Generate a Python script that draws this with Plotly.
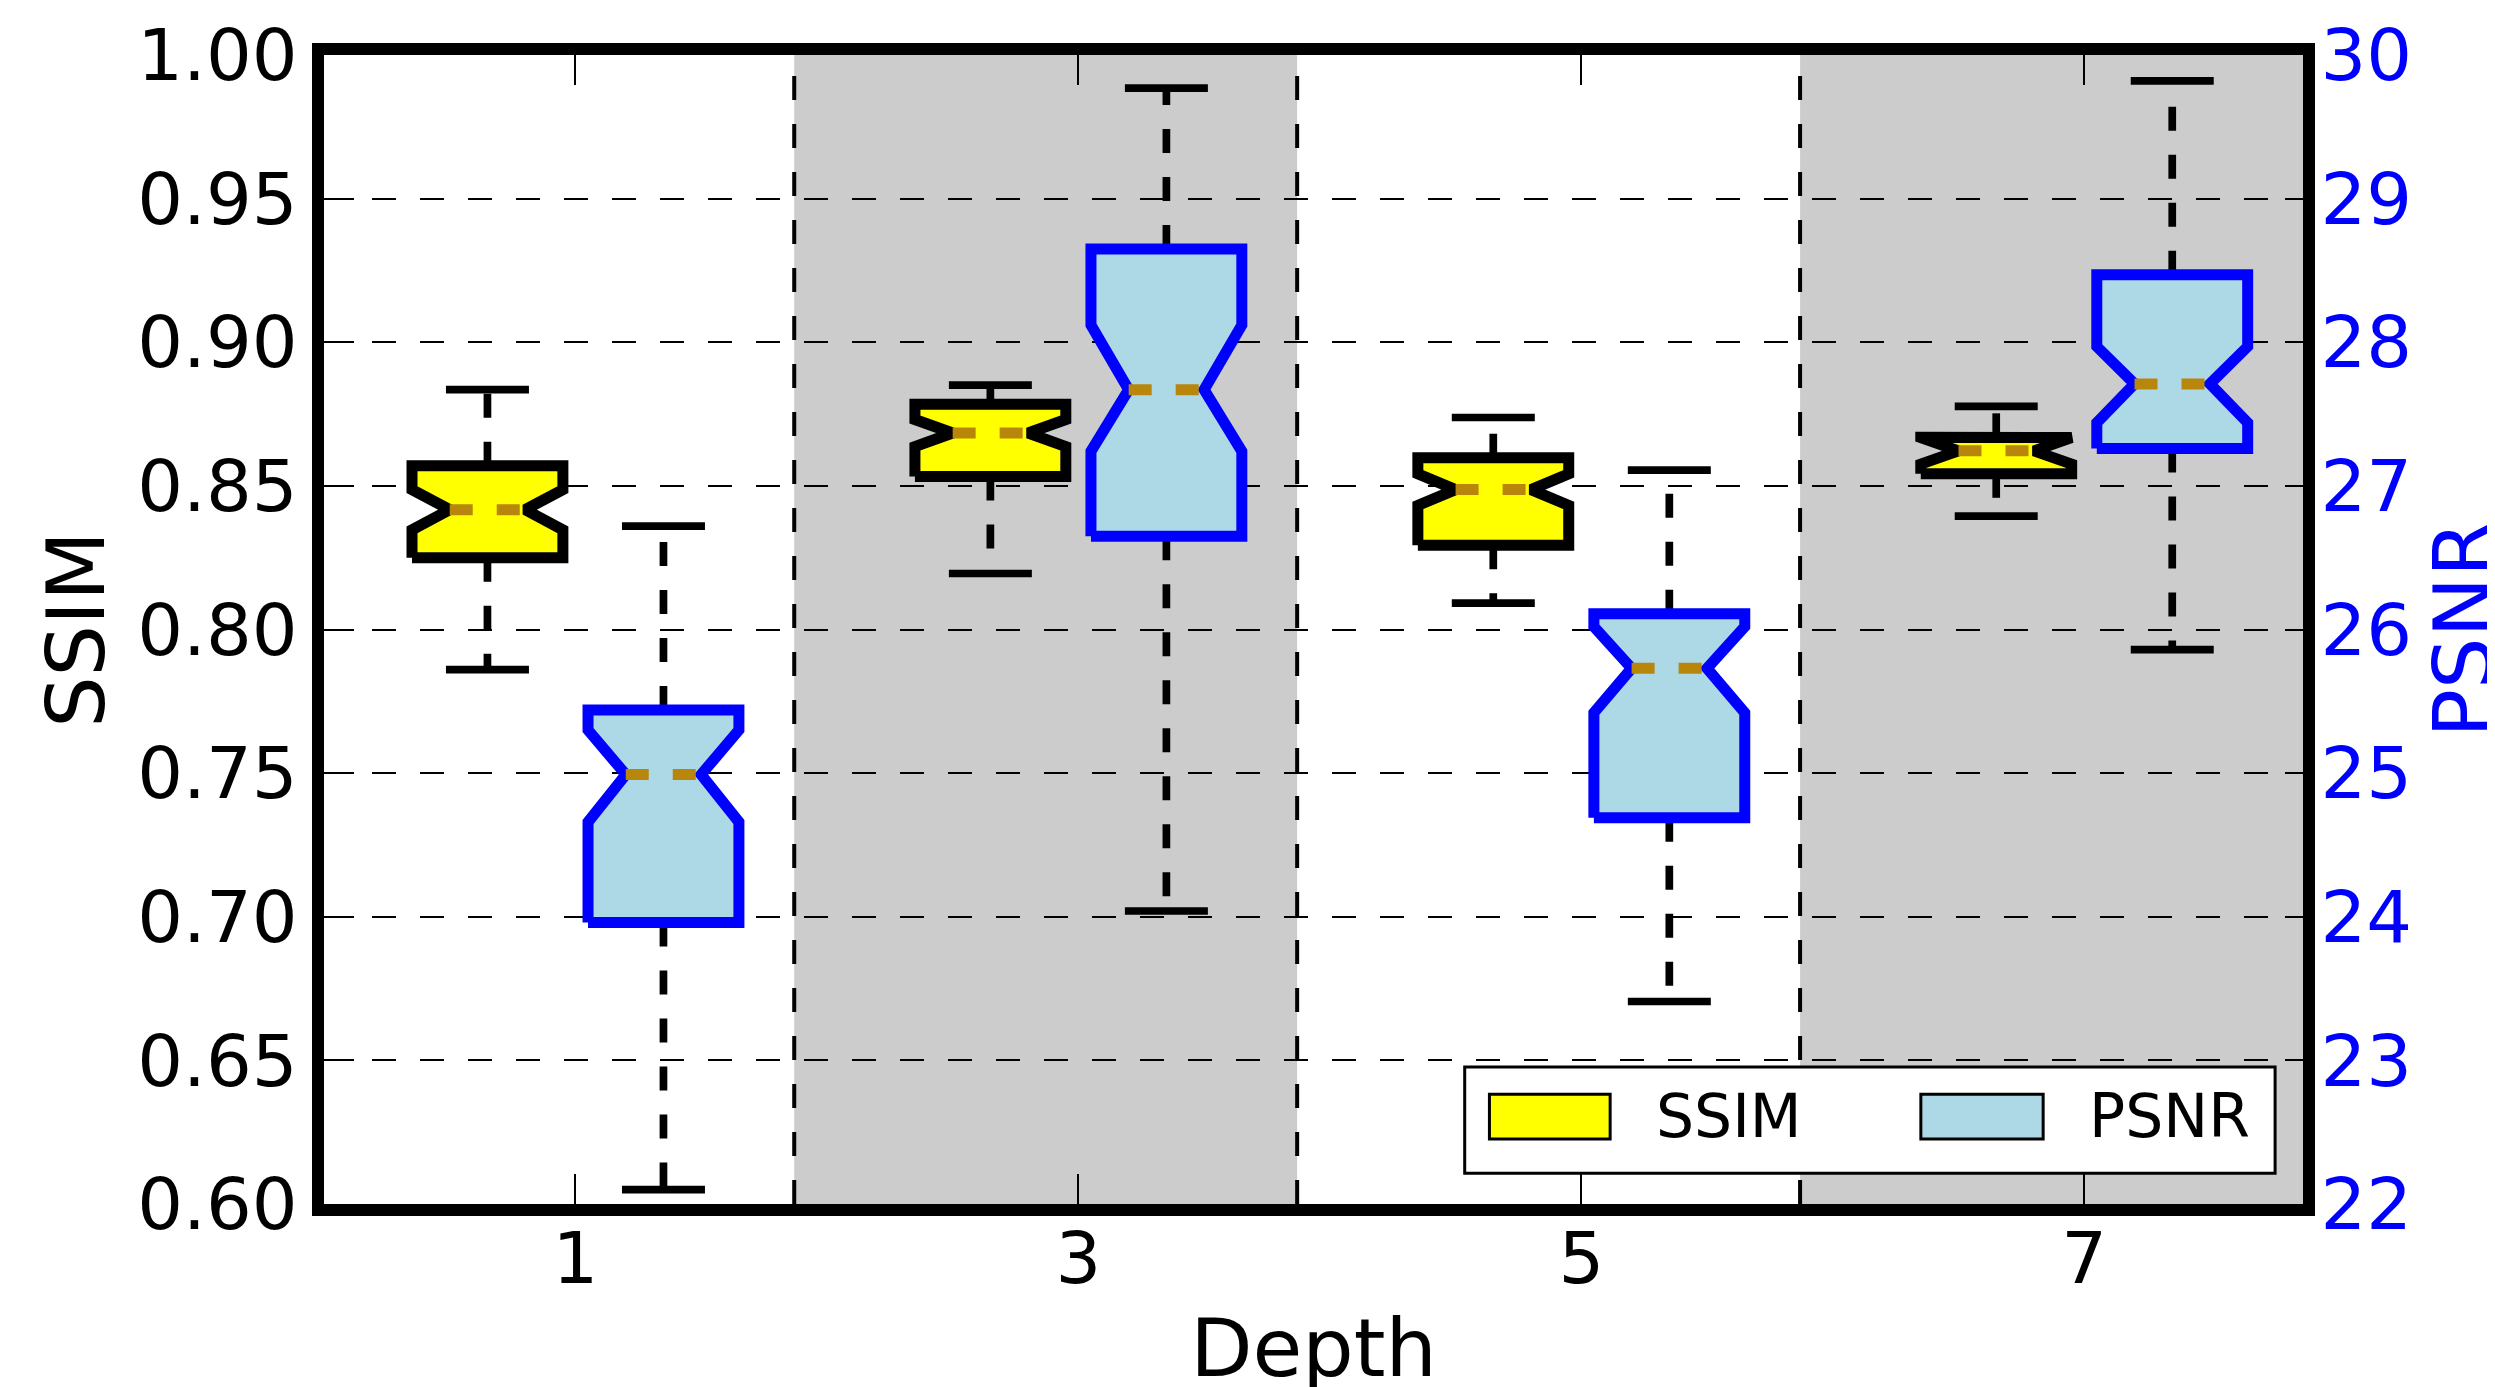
import plotly.graph_objects as go

# ---------------- data ----------------
depths = [1, 3, 5, 7]

ssim_low = [0.786, 0.8195, 0.8092, 0.8395]
ssim_q1 = [0.825, 0.8533, 0.8293, 0.8542]
ssim_med = [0.8417, 0.8684, 0.8487, 0.8622]
ssim_q3 = [0.857, 0.8784, 0.8598, 0.8669]
ssim_high = [0.8835, 0.8851, 0.8738, 0.8777]
ssim_notch_lo = [0.8347, 0.8637, 0.8432, 0.8576]
ssim_notch_hi = [0.8487, 0.8731, 0.8542, 0.8668]

psnr_low = [22.10, 24.04, 23.41, 25.86]
psnr_q1 = [23.96, 26.65, 24.69, 27.26]
psnr_med = [24.99, 27.67, 25.73, 27.71]
psnr_q3 = [25.44, 28.65, 26.11, 28.47]
psnr_high = [26.72, 29.77, 27.11, 29.82]
psnr_notch_lo = [24.66, 27.24, 25.42, 27.44]
psnr_notch_hi = [25.30, 28.12, 26.02, 27.97]

x_ticks = [1, 3, 5, 7]
ssim_ticks = [0.60, 0.65, 0.70, 0.75, 0.80, 0.85, 0.90, 0.95, 1.00]
psnr_ticks = [22, 23, 24, 25, 26, 27, 28, 29, 30]

# ---------------- layout constants ----------------
OFFSET = 0.35
HALF_W = 0.30
CAP_HALF = 0.165
NOTCH_FRAC = 0.5
band_edges = [1.87, 3.87, 5.87]
shaded = [(1.87, 3.87), (5.87, 7.87)]
X_RANGE = [0, 7.87]
FONT = "DejaVu Sans"


def box_polys(positions, q1, ln, med, un, q3):
    xs, ys = [], []
    for p, a, b, m, c, d in zip(positions, q1, ln, med, un, q3):
        l, r = p - HALF_W, p + HALF_W
        tl, tr = p - HALF_W * NOTCH_FRAC, p + HALF_W * NOTCH_FRAC
        xs += [l, r, r, tr, r, r, l, l, tl, l, l, None]
        ys += [a, a, b, m, c, d, d, c, m, b, a, None]
    return xs, ys


def whiskers(positions, q1, low, q3, high):
    xs, ys = [], []
    for p, a, lo, d, hi in zip(positions, q1, low, q3, high):
        xs += [p, p, None, p, p, None]
        ys += [a, lo, None, d, hi, None]
    return xs, ys


def caps(positions, low, high):
    xs, ys = [], []
    for p, lo, hi in zip(positions, low, high):
        xs += [p - CAP_HALF, p + CAP_HALF, None, p - CAP_HALF, p + CAP_HALF, None]
        ys += [lo, lo, None, hi, hi, None]
    return xs, ys


def medians(positions, med):
    xs, ys = [], []
    for p, m in zip(positions, med):
        xs += [p - HALF_W * NOTCH_FRAC, p + HALF_W * NOTCH_FRAC, None]
        ys += [m, m, None]
    return xs, ys


ssim_pos = [d - OFFSET for d in depths]
psnr_pos = [d + OFFSET for d in depths]

fig = go.Figure()

series = [
    ("SSIM", ssim_pos, ssim_low, ssim_q1, ssim_notch_lo, ssim_med, ssim_notch_hi, ssim_q3, ssim_high,
     "#ffff00", "#000000", "y"),
    ("PSNR", psnr_pos, psnr_low, psnr_q1, psnr_notch_lo, psnr_med, psnr_notch_hi, psnr_q3, psnr_high,
     "#add8e6", "#0000ff", "y2"),
]

for name, pos, lo, q1, ln, med, un, q3, hi, fill, edge, yax in series:
    wx, wy = whiskers(pos, q1, lo, q3, hi)
    fig.add_trace(go.Scatter(x=wx, y=wy, mode="lines", yaxis=yax, showlegend=False,
                             line=dict(color="black", width=7.7, dash="24px,24px"),
                             hoverinfo="skip"))
    cx, cy = caps(pos, lo, hi)
    fig.add_trace(go.Scatter(x=cx, y=cy, mode="lines", yaxis=yax, showlegend=False,
                             line=dict(color="black", width=7.7), hoverinfo="skip"))
    bx, by = box_polys(pos, q1, ln, med, un, q3)
    fig.add_trace(go.Scatter(x=bx, y=by, mode="lines", yaxis=yax, name=name, showlegend=False,
                             fill="toself", fillcolor=fill,
                             line=dict(color=edge, width=11)))
    mx, my = medians(pos, med)
    fig.add_trace(go.Scatter(x=mx, y=my, mode="lines", yaxis=yax, showlegend=False,
                             line=dict(color="#b8860b", width=11, dash="23px,24px"),
                             hoverinfo="skip"))

shapes = []
for x0, x1 in shaded:
    shapes.append(dict(type="rect", xref="x", yref="paper", x0=x0, x1=x1, y0=0, y1=1,
                       fillcolor="#cccccc", line=dict(width=0), layer="below"))
for xe in band_edges:
    shapes.append(dict(type="line", xref="x", yref="paper", x0=xe, x1=xe, y0=0, y1=1,
                       line=dict(color="black", width=4, dash="24px,24px"), layer="below"))

# custom legend (paper coordinates)
shapes.append(dict(type="rect", xref="paper", yref="paper", x0=0.5764, x1=0.9859, y0=0.0267, y1=0.1192,
                   fillcolor="white", line=dict(color="black", width=3), layer="above"))
shapes.append(dict(type="rect", xref="paper", yref="paper", x0=0.5889, x1=0.6499, y0=0.0565, y1=0.0955,
                   fillcolor="#ffff00", line=dict(color="black", width=3), layer="above"))
shapes.append(dict(type="rect", xref="paper", yref="paper", x0=0.8069, x1=0.8687, y0=0.0565, y1=0.0955,
                   fillcolor="#add8e6", line=dict(color="black", width=3), layer="above"))

annotations = [
    dict(text="SSIM", xref="paper", yref="paper", x=0.6723, y=0.0770, xanchor="left", yanchor="middle",
         showarrow=False, font=dict(size=60, color="black", family=FONT)),
    dict(text="PSNR", xref="paper", yref="paper", x=0.8911, y=0.0770, xanchor="left", yanchor="middle",
         showarrow=False, font=dict(size=60, color="black", family=FONT)),
    # right axis title
    dict(text="PSNR", xref="paper", yref="paper", x=1.0805, y=0.5, xanchor="center", yanchor="middle",
         textangle=-90, showarrow=False, font=dict(size=81, color="#0000ff", family=FONT)),
]

fig.update_layout(
    width=2495, height=1387,
    margin=dict(l=316, r=200, t=47, b=191, autoexpand=False),
    paper_bgcolor="white", plot_bgcolor="white",
    font=dict(family=FONT, size=72, color="black"),
    showlegend=False,
    shapes=shapes,
    annotations=annotations,
    xaxis=dict(range=X_RANGE, tickvals=x_ticks, ticktext=[str(v) for v in x_ticks],
               automargin=False, ticklabelstandoff=-19,
               showgrid=False, zeroline=False, showline=True, linewidth=12, linecolor="black",
               mirror="ticks", ticks="inside", ticklen=30, tickwidth=2, tickcolor="black",
               tickfont=dict(size=72), title=dict(text="Depth", font=dict(size=81), standoff=50)),
    yaxis=dict(range=[0.6, 1.0], tickvals=ssim_ticks, ticktext=[f"{v:.2f}" for v in ssim_ticks],
               automargin=False,
               showgrid=True, gridcolor="black", gridwidth=2, griddash="24px,24px",
               zeroline=False, showline=True, linewidth=12, linecolor="black", mirror=False,
               ticks="inside", ticklen=30, tickwidth=2, tickcolor="black",
               tickfont=dict(size=72), title=dict(text="SSIM", font=dict(size=81), standoff=11)),
    yaxis2=dict(range=[22, 30], tickvals=psnr_ticks, ticktext=[str(v) for v in psnr_ticks],
                automargin=False, ticklabelstandoff=-9,
                overlaying="y", side="right", showgrid=False, zeroline=False,
                showline=True, linewidth=12, linecolor="black",
                ticks="inside", ticklen=18, tickwidth=2, tickcolor="black",
                tickfont=dict(size=72, color="#0000ff")),
)

fig.write_html("out.html")
